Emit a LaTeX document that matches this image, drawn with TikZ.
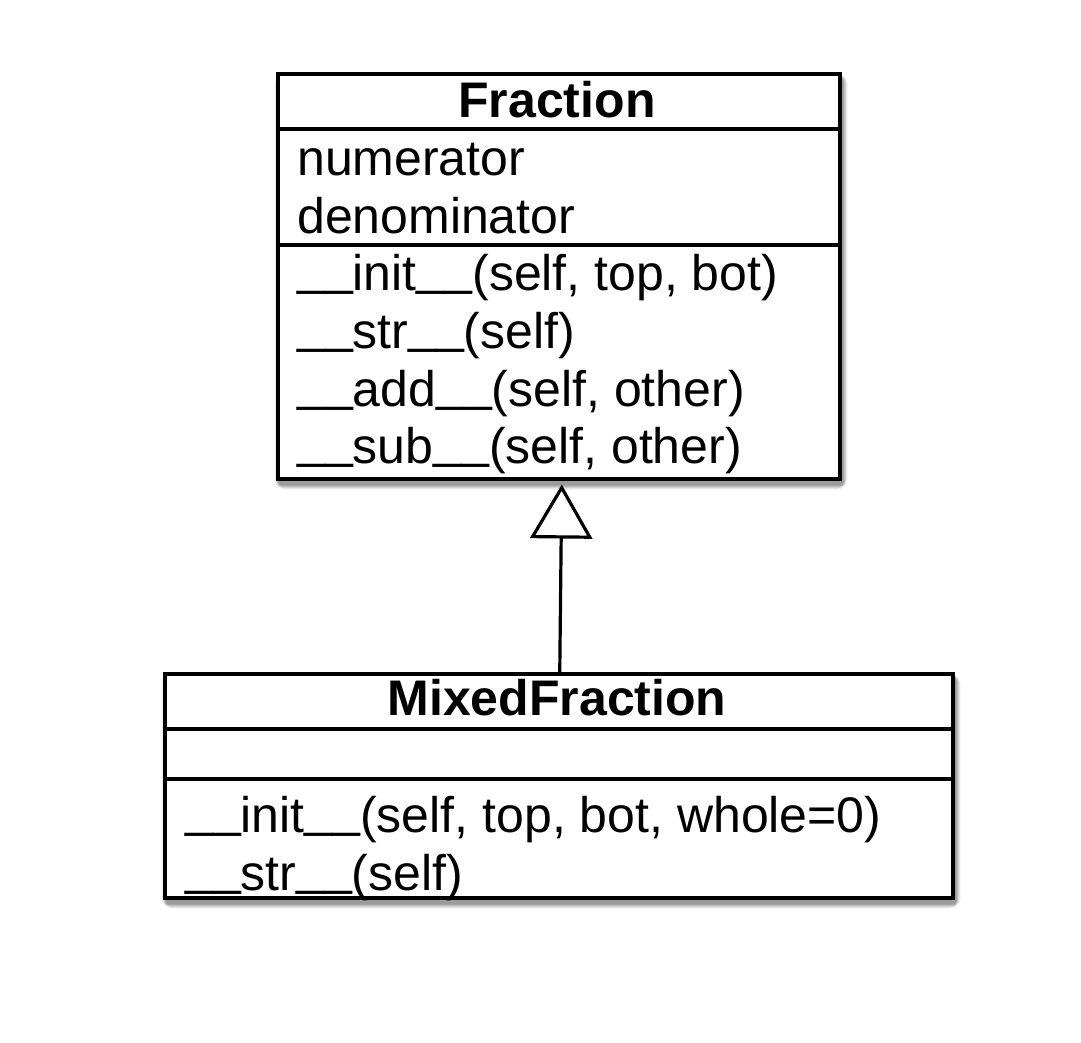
\documentclass[tikz,border=0pt]{standalone}
\usepackage{fontspec}
\setmainfont{Liberation Sans}
\usetikzlibrary{arrows.meta,calc}
\newcommand\myus{\raisebox{6pt}{\_}}
\tikzset{
  classbox/.style={draw=black, line width=3.5pt, fill=white, inner sep=0pt, anchor=north west},
  sepline/.style={line width=3.5pt},
  txt/.style={anchor=base west, inner sep=0pt, font=\fontsize{50pt}{58pt}\selectfont},
  ttl/.style={anchor=base, inner sep=0pt, font=\fontsize{50pt}{58pt}\selectfont\bfseries},
  inherit/.style={line width=3.2pt, -{Triangle[open, length=54pt, width=62pt, line width=3.2pt]}},
}
\begin{document}
\begin{tikzpicture}[x=1pt, y=-1pt]
\useasboundingbox[fill=white] (0,0) rectangle (1081,1042);
% shadows
\foreach \o/\a in {11/0.05, 9/0.07, 7/0.09, 5/0.11, 3/0.13}{
  \fill[black, opacity=\a, rounded corners=\o pt] (276+4-\o/2,72+7-\o/2) rectangle (838+4+\o/2,477+7+\o/2);
  \fill[black, opacity=\a, rounded corners=\o pt] (163+4-\o/2,672+7-\o/2) rectangle (951+4+\o/2,896+7+\o/2);
}
% Fraction class
\node[classbox, minimum width=562pt, minimum height=405pt] (frac) at (276,72) {};
\draw[sepline] (frac.west |- 0,129) -- (frac.east |- 0,129);
\draw[sepline] (frac.west |- 0,245) -- (frac.east |- 0,245);
\node[ttl] (fractitle) at (557,117) {Fraction};
\node[txt] (fnum) at (297,175) {numerator};
\node[txt] (fden) at (297,233) {denominator};
\node[txt] (finit) at (297,290) {\myus\myus init\myus\myus(self, top, bot)};
\node[txt] (fstr) at (297,348) {\myus\myus str\myus\myus(self)};
\node[txt] (fadd) at (297,406) {\myus\myus add\myus\myus(self, other)};
\node[txt] (fsub) at (297,463) {\myus\myus sub\myus\myus(self, other)};
% MixedFraction class
\node[classbox, minimum width=788pt, minimum height=224pt] (mixed) at (163,672) {};
\draw[sepline] (mixed.west |- 0,729) -- (mixed.east |- 0,729);
\draw[sepline] (mixed.west |- 0,779) -- (mixed.east |- 0,779);
\node[ttl] (mixedtitle) at (557,715) {MixedFraction};
\node[txt] (minit) at (185,832) {\myus\myus init\myus\myus(self, top, bot, whole=0)};
\node[txt] (mstr) at (185,890) {\myus\myus str\myus\myus(self)};
% generalization
\draw[inherit] ([xshift=1pt]mixed.north) -- ([xshift=3pt,yshift=-4pt]frac.south);
\end{tikzpicture}
\end{document}
